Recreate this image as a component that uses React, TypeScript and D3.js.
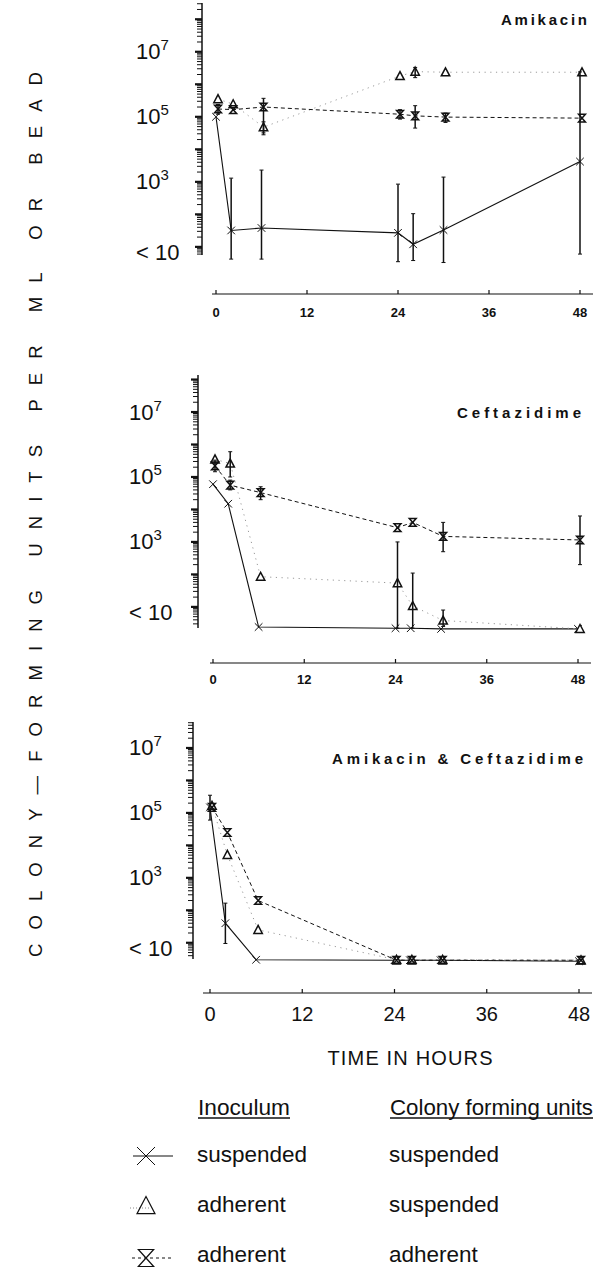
import React from 'react';
import * as d3 from 'd3';

// ---------- DATA ----------
const TIMES = [0, 2, 6, 24, 26, 30, 48];
const X_TICKS = [0, 12, 24, 36, 48];
const Y_LABEL_EXPONENTS = [7, 5, 3];
const PANEL_TITLES = ['Amikacin', 'Ceftazidime', 'Amikacin & Ceftazidime'];

type Err = [number, number] | null;

// Amikacin
const amiSusp = [1e5, 32, 38, 27, 12, 33, 4200];
const amiSuspErr: Err[] = [null, [4.2, 1300], [4.2, 2300], [3.5, 850], [3.8, 105], [3.3, 1400], [6, 2.4e6]];
const amiAdhSusp = [3.5e5, 2.45e5, 4.8e4, 1.8e6, 2.45e6, 2.35e6, 2.35e6];
const amiAdhSuspErr: Err[] = [null, null, [2.8e4, 7e4], null, [1.6e6, 3.3e6], null, null];
const amiAdhAdh = [1.74e5, 1.66e5, 2e5, 1.2e5, 1.07e5, 9.8e4, 9.1e4];
const amiAdhAdhErr: Err[] = [[1.2e5, 2.4e5], null, [3.2e4, 3.7e5], [8.5e4, 1.66e5], [4.5e4, 2.2e5], [6.7e4, 1.3e5], null];

// Ceftazidime
const cefSusp = [6e4, 1.5e4, 2.4, 2.2, 2.2, 2.1, 2.1];
const cefSuspErr: Err[] = [null, null, null, null, null, null, null];
const cefAdhSusp = [3.5e5, 2.6e5, 85, 54, 10.7, 3.8, 2.1];
const cefAdhSuspErr: Err[] = [null, [1e5, 6e5], null, [2.2, 1000], [2.2, 110], [2.5, 8], null];
const cefAdhAdh = [2.19e5, 5.6e4, 3.3e4, 2.75e3, 4e3, 1.48e3, 1.15e3];
const cefAdhAdhErr: Err[] = [[1.45e5, 3.3e5], [4e4, 8e4], [2e4, 5e4], null, null, [500, 4e3], [200, 6.3e3]];

// Amikacin & Ceftazidime
const comboSusp = [1.48e5, 40, 3, 2.9, 2.9, 2.9, 2.7];
const comboSuspErr: Err[] = [[6e4, 3.5e5], [9.5, 166], null, null, null, null, null];
const comboAdhSusp = [1.66e5, 5.1e3, 25, 3, 3, 3, 2.9];
const comboAdhSuspErr: Err[] = [null, null, null, null, null, null, null];
const comboAdhAdh = [1.48e5, 2.5e4, 200, 2.9, 2.9, 2.9, 2.9];
const comboAdhAdhErr: Err[] = [null, null, null, null, null, null, null];

const LEGEND_HEAD = ['Inoculum', 'Colony forming units'];
const LEGEND_ROWS = [
  ['suspended', 'suspended'],
  ['adherent', 'suspended'],
  ['adherent', 'adherent'],
];

// ---------- STYLES / LAYOUT ----------
const FONT = 'Liberation Sans, Arial, Helvetica, sans-serif';

const SERIES_STYLE = [
  { marker: 'x', stroke: '#111', width: 1.1, dash: undefined as string | undefined, dx: 0 },
  { marker: 'tri', stroke: '#9a9a9a', width: 1, dash: '1.2 4.5', dx: 2 },
  { marker: 'hg', stroke: '#111', width: 1, dash: '4 3', dx: 2 },
];

const PANELS = [
  {
    title: PANEL_TITLES[0], titleRight: 587, titleBase: 25, titleW: 86,
    series: [[amiSusp, amiSuspErr], [amiAdhSusp, amiAdhSuspErr], [amiAdhAdh, amiAdhAdhErr]],
    axisX: 202, x0: 216, x48: 580, yTop: 3, yBot: 255, logMin: 0.75, logMax: 8.5,
    xAxisY: 294, xLineL: 212, xLineR: 593, tickBase: 317, tickFont: 13, tickBold: true, labelX: 136,
  },
  {
    title: PANEL_TITLES[1], titleRight: 581, titleBase: 418, titleW: 124,
    series: [[cefSusp, cefSuspErr], [cefAdhSusp, cefAdhSuspErr], [cefAdhAdh, cefAdhAdhErr]],
    axisX: 198, x0: 213, x48: 578, yTop: 375, yBot: 628, logMin: 0.35, logMax: 8.14,
    xAxisY: 663, xLineL: 210, xLineR: 591, tickBase: 684, tickFont: 13, tickBold: true, labelX: 129,
  },
  {
    title: PANEL_TITLES[2], titleRight: 583, titleBase: 764, titleW: 251,
    series: [[comboSusp, comboSuspErr], [comboAdhSusp, comboAdhSuspErr], [comboAdhAdh, comboAdhAdhErr]],
    axisX: 193, x0: 210, x48: 579, yTop: 722, yBot: 959, logMin: 0.5, logMax: 7.8,
    xAxisY: 993, xLineL: 203, xLineR: 592, tickBase: 1021, tickFont: 20, tickBold: false, labelX: 129,
  },
];

function markerPath(kind: string, s: number): string {
  if (kind === 'x') return `M${-s},${-s}L${s},${s}M${-s},${s}L${s},${-s}`;
  if (kind === 'tri') return `M0,${-s * 1.05}L${s},${s * 0.85}L${-s},${s * 0.85}Z`;
  return `M${-s * 0.9},${-s}H${s * 0.9}L${-s * 0.9},${s}H${s * 0.9}Z`;
}

function Panel({ p }: { p: (typeof PANELS)[number] }) {
  const x = d3.scaleLinear().domain([0, 48]).range([p.x0, p.x48]);
  const y = d3.scaleLog().domain([Math.pow(10, p.logMin), Math.pow(10, p.logMax)]).range([p.yBot, p.yTop]);

  const ticks: { v: number; major: boolean }[] = [];
  for (let n = Math.floor(p.logMin); n <= Math.ceil(p.logMax); n++) {
    for (let k = 1; k <= 9; k++) {
      const v = k * Math.pow(10, n);
      const lv = Math.log10(v);
      if (lv >= p.logMin && lv <= p.logMax) ticks.push({ v, major: k === 1 });
    }
  }

  return (
    <g>
      <line x1={p.axisX} x2={p.axisX} y1={p.yTop} y2={p.yBot} stroke="#111" strokeWidth={1.5} />
      {ticks.map((t, i) => (
        <line key={i} x1={p.axisX - (t.major ? 7 : 5)} x2={p.axisX} y1={y(t.v)} y2={y(t.v)}
          stroke="#111" strokeWidth={t.major ? 2.2 : 1} />
      ))}
      {Y_LABEL_EXPONENTS.map((e) => (
        <text key={e} x={p.labelX} y={y(Math.pow(10, e)) + 7.5} fontSize={22} fontFamily={FONT} fill="#111">
          10<tspan dy={-9} fontSize={15}>{e}</tspan>
        </text>
      ))}
      <text x={p.labelX} y={y(10) + 13.5} fontSize={22} fontFamily={FONT} fill="#111">{'< 10'}</text>

      <line x1={p.xLineL} x2={p.xLineR} y1={p.xAxisY} y2={p.xAxisY} stroke="#111" strokeWidth={1.2} />
      {X_TICKS.map((t) => (
        <g key={t}>
          <line x1={x(t)} x2={x(t)} y1={p.xAxisY} y2={p.xAxisY - 4} stroke="#111" strokeWidth={1.2} />
          <text x={x(t)} y={p.tickBase} textAnchor="middle" fontSize={p.tickFont}
            fontWeight={p.tickBold ? 'bold' : 'normal'} fontFamily={FONT} fill="#111">{t}</text>
        </g>
      ))}

      <text x={p.titleRight - p.titleW} y={p.titleBase} fontSize={15} fontWeight="bold" fontFamily={FONT}
        textLength={p.titleW} lengthAdjust="spacing" fill="#111">{p.title}</text>

      {p.series.map(([vals], si) => {
        const st = SERIES_STYLE[si];
        const line = d3.line<number>().x((_, i) => x(TIMES[i]) + st.dx).y((v) => y(v as number));
        return (
          <path key={'l' + si} d={line(vals as number[]) || ''} fill="none" stroke={st.stroke}
            strokeWidth={st.width} strokeDasharray={st.dash} />
        );
      })}
      {p.series.map(([vals], si) => {
        const st = SERIES_STYLE[si];
        return (vals as number[]).map((v, i) => (
          <path key={'m' + si + '-' + i} transform={`translate(${x(TIMES[i]) + st.dx},${y(v)})`}
            d={markerPath(st.marker, st.marker === 'tri' ? 4.2 : 3.8)}
            fill={st.marker === 'tri' ? 'white' : 'none'} stroke="#111"
            strokeWidth={st.marker === 'x' ? 1 : 1.5} />
        ));
      })}
      {p.series.map(([, errs], si) => {
        const st = SERIES_STYLE[si];
        return (errs as Err[]).map((e, i) => {
          if (!e) return null;
          const cx = x(TIMES[i]) + st.dx;
          return (
            <g key={'e' + si + '-' + i} stroke="#111" strokeWidth={1.5}>
              <line x1={cx} x2={cx} y1={y(e[0])} y2={y(e[1])} />
              <line x1={cx - 2} x2={cx + 2} y1={y(e[0])} y2={y(e[0])} strokeWidth={1} />
              <line x1={cx - 2} x2={cx + 2} y1={y(e[1])} y2={y(e[1])} strokeWidth={1} />
            </g>
          );
        });
      })}
    </g>
  );
}

function Legend() {
  const rowY = [1162, 1212, 1262];
  const symY = [1156, 1206, 1258];
  return (
    <g fontFamily={FONT} fill="#111">
      <text x={410} y={1065} textAnchor="middle" fontSize={20} textLength={165} lengthAdjust="spacing">TIME IN HOURS</text>
      <text x={198} y={1115} fontSize={22} textLength={92} lengthAdjust="spacingAndGlyphs">{LEGEND_HEAD[0]}</text>
      <line x1={198} x2={290} y1={1118} y2={1118} stroke="#111" strokeWidth={1.3} />
      <text x={390} y={1115} fontSize={22} textLength={203} lengthAdjust="spacingAndGlyphs">{LEGEND_HEAD[1]}</text>
      <line x1={390} x2={593} y1={1118} y2={1118} stroke="#111" strokeWidth={1.3} />
      {LEGEND_ROWS.map((r, i) => (
        <g key={i}>
          <text x={197} y={rowY[i]} fontSize={22.5}>{r[0]}</text>
          <text x={389} y={rowY[i]} fontSize={22.5}>{r[1]}</text>
        </g>
      ))}
      <line x1={133} x2={173} y1={symY[0]} y2={symY[0]} stroke="#111" strokeWidth={1.1} />
      <path transform={`translate(146,${symY[0]})`} d={markerPath('x', 9)} stroke="#111" strokeWidth={1} fill="none" />
      <line x1={130} x2={150} y1={symY[1] + 2} y2={symY[1] + 2} stroke="#888" strokeWidth={1} strokeDasharray="1 2" />
      <path transform={`translate(146,${symY[1]})`} d={markerPath('tri', 9)} stroke="#111" strokeWidth={1.2} fill="none" />
      <line x1={132} x2={173} y1={symY[2]} y2={symY[2]} stroke="#111" strokeWidth={1} strokeDasharray="3 3" />
      <path transform={`translate(146,${symY[2]})`} d={markerPath('hg', 8.5)} stroke="#111" strokeWidth={1.2} fill="white" />
    </g>
  );
}

export default function App() {
  return (
    <svg width={603} height={1269} viewBox="0 0 603 1269"
      style={{ position: 'absolute', left: 0, top: 0, background: 'white' }}>
      <rect x={0} y={0} width={603} height={1269} fill="white" />
      <text transform="translate(42,514.5) rotate(-90)" textAnchor="middle" fontSize={18.5}
        fontFamily={FONT} textLength={885} lengthAdjust="spacing" fill="#111">
        COLONY—FORMING UNITS PER ML OR BEAD
      </text>
      {PANELS.map((p, i) => <Panel key={i} p={p} />)}
      <Legend />
    </svg>
  );
}
